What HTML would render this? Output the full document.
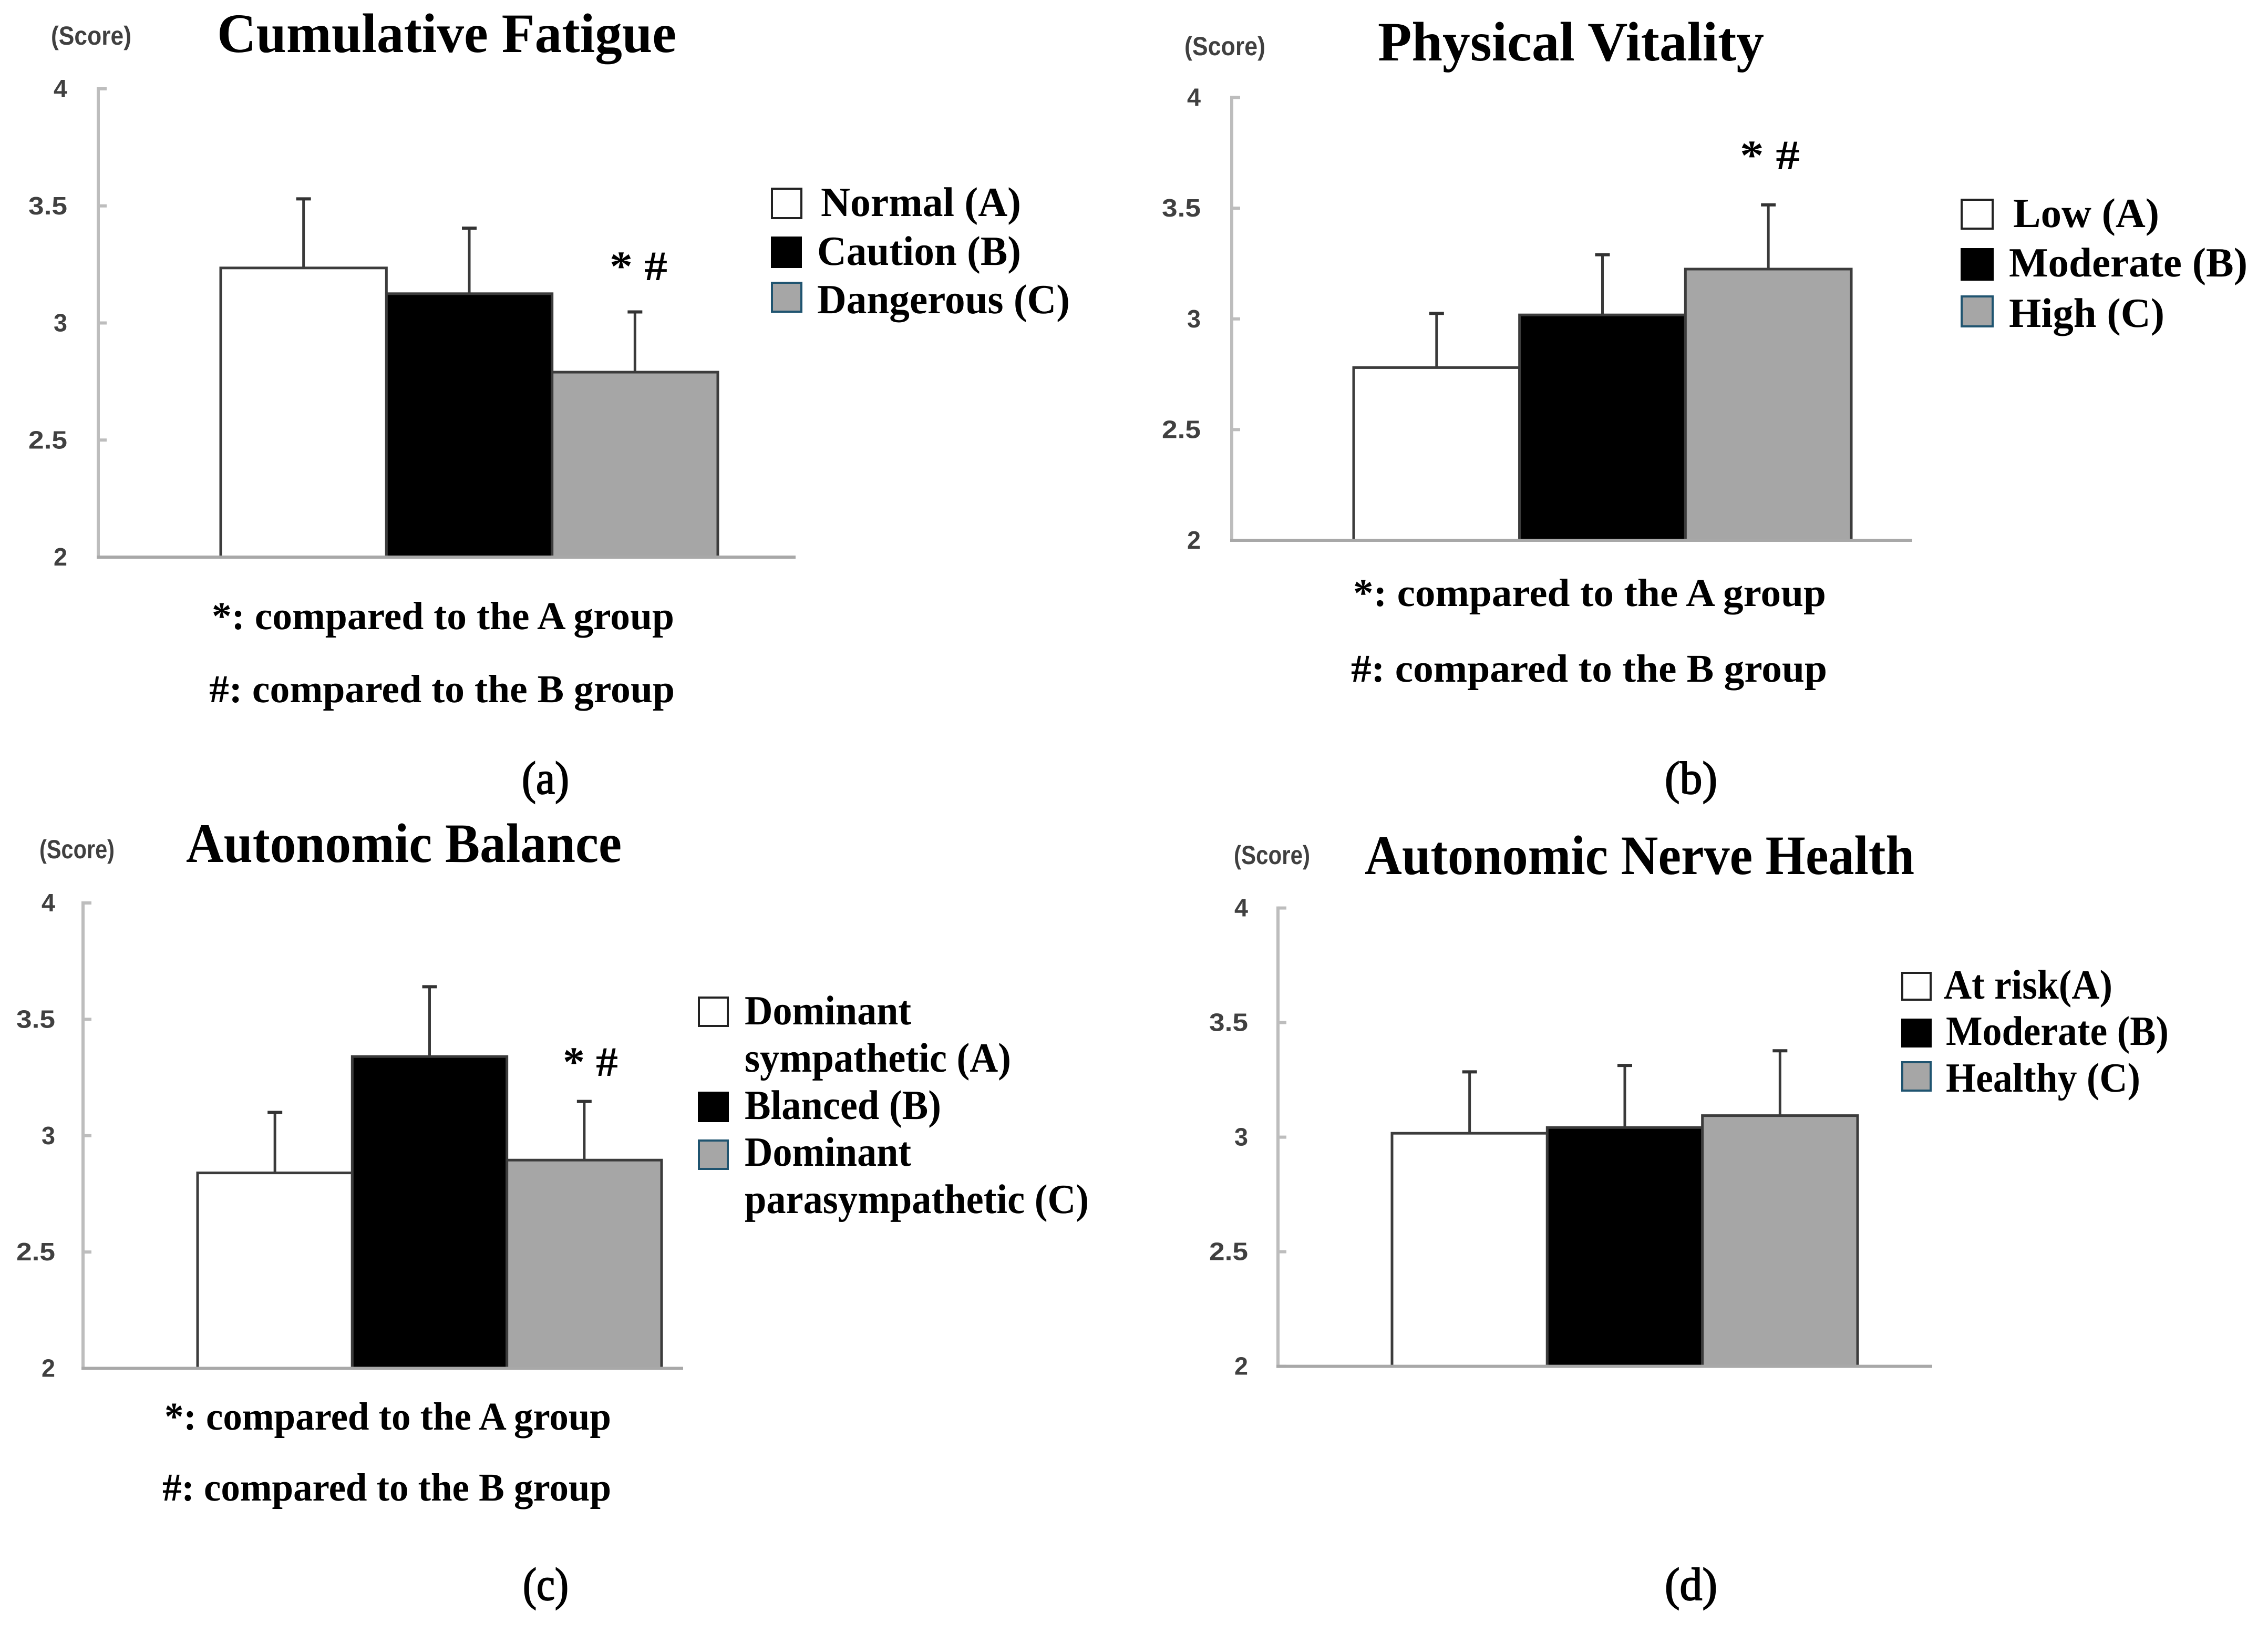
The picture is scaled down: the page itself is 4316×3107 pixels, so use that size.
<!DOCTYPE html>
<html lang="en">
<head>
<meta charset="utf-8">
<title>Fatigue and autonomic scores by group</title>
<style>
html,body{margin:0;padding:0;background:#fff;}
svg{display:block;}
text{text-rendering:geometricPrecision;}
.t{font-family:"Liberation Serif",serif;font-weight:700;fill:#000;}
.title{font-size:106px;}
.leg{font-size:79px;}
.note{font-size:75px;}
.sig{font-size:80px;}
.cap{font-size:88px;font-weight:400;stroke:#000;stroke-width:2px;}
.score{font-family:"Liberation Sans",sans-serif;font-size:50px;fill:#404040;font-weight:700;}
.tick-label{font-family:"Liberation Sans",sans-serif;font-size:48px;font-weight:700;fill:#404040;}
</style>
</head>
<body>
<svg id="figure" xmlns="http://www.w3.org/2000/svg" width="4316" height="3107" viewBox="0 0 4316 3107">
<rect width="4316" height="3107" fill="#fff"/>

<g id="panel-a">
  <text class="t title" x="413" y="99" textLength="874" lengthAdjust="spacingAndGlyphs">Cumulative Fatigue</text>
  <text class="score" x="97" y="85" textLength="153" lengthAdjust="spacingAndGlyphs">(Score)</text>
  <g id="plot-a"></g>
  <text class="t sig" x="1160" y="533" textLength="110" lengthAdjust="spacingAndGlyphs">* #</text>
  <g>
    <rect x="1469" y="359" width="56" height="56" fill="#fff" stroke="#222" stroke-width="4"/>
    <rect x="1467" y="450" width="59" height="60" fill="#000"/>
    <rect x="1469" y="538" width="56" height="55" fill="#a6a6a6" stroke="#1f5470" stroke-width="4"/>
    <text class="t leg" x="1562" y="411" textLength="381" lengthAdjust="spacingAndGlyphs">Normal (A)</text>
    <text class="t leg" x="1555" y="504" textLength="388" lengthAdjust="spacingAndGlyphs">Caution (B)</text>
    <text class="t leg" x="1555" y="596" textLength="481" lengthAdjust="spacingAndGlyphs">Dangerous (C)</text>
  </g>
  <text class="t note" x="403" y="1197" textLength="880" lengthAdjust="spacingAndGlyphs">*: compared to the A group</text>
  <text class="t note" x="398" y="1336" textLength="886" lengthAdjust="spacingAndGlyphs">#: compared to the B group</text>
  <text class="t cap" x="993" y="1510" textLength="90" lengthAdjust="spacingAndGlyphs">(a)</text>
</g>

<g id="panel-b">
  <text class="t title" x="2622" y="115" textLength="735" lengthAdjust="spacingAndGlyphs">Physical Vitality</text>
  <text class="score" x="2254" y="105" textLength="154" lengthAdjust="spacingAndGlyphs">(Score)</text>
  <g id="plot-b"></g>
  <text class="t sig" x="3311" y="322" textLength="114" lengthAdjust="spacingAndGlyphs">* #</text>
  <g>
    <rect x="3733" y="380" width="59" height="55" fill="#fff" stroke="#222" stroke-width="4"/>
    <rect x="3731" y="472" width="63" height="62" fill="#000"/>
    <rect x="3733" y="564" width="59" height="57" fill="#a6a6a6" stroke="#1f5470" stroke-width="4"/>
    <text class="t leg" x="3831" y="432" textLength="278" lengthAdjust="spacingAndGlyphs">Low (A)</text>
    <text class="t leg" x="3823" y="526" textLength="454" lengthAdjust="spacingAndGlyphs">Moderate (B)</text>
    <text class="t leg" x="3823" y="622" textLength="296" lengthAdjust="spacingAndGlyphs">High (C)</text>
  </g>
  <text class="t note" x="2575" y="1153" textLength="900" lengthAdjust="spacingAndGlyphs">*: compared to the A group</text>
  <text class="t note" x="2571" y="1297" textLength="906" lengthAdjust="spacingAndGlyphs">#: compared to the B group</text>
  <text class="t cap" x="3168" y="1510" textLength="100" lengthAdjust="spacingAndGlyphs">(b)</text>
</g>

<g id="panel-c">
  <text class="t title" x="354" y="1640" textLength="829" lengthAdjust="spacingAndGlyphs">Autonomic Balance</text>
  <text class="score" x="75" y="1633" textLength="143" lengthAdjust="spacingAndGlyphs">(Score)</text>
  <g id="plot-c"></g>
  <text class="t sig" x="1071" y="2047" textLength="105" lengthAdjust="spacingAndGlyphs">* #</text>
  <g>
    <rect x="1330" y="1898" width="55" height="54" fill="#fff" stroke="#222" stroke-width="4"/>
    <rect x="1328" y="2077" width="59" height="58" fill="#000"/>
    <rect x="1330" y="2170" width="55" height="54" fill="#a6a6a6" stroke="#1f5470" stroke-width="4"/>
    <text class="t leg" x="1417" y="1949" textLength="317" lengthAdjust="spacingAndGlyphs">Dominant</text>
    <text class="t leg" x="1417" y="2039" textLength="507" lengthAdjust="spacingAndGlyphs">sympathetic (A)</text>
    <text class="t leg" x="1417" y="2129" textLength="374" lengthAdjust="spacingAndGlyphs">Blanced (B)</text>
    <text class="t leg" x="1417" y="2218" textLength="317" lengthAdjust="spacingAndGlyphs">Dominant</text>
    <text class="t leg" x="1417" y="2308" textLength="655" lengthAdjust="spacingAndGlyphs">parasympathetic (C)</text>
  </g>
  <text class="t note" x="313" y="2720" textLength="850" lengthAdjust="spacingAndGlyphs">*: compared to the A group</text>
  <text class="t note" x="309" y="2855" textLength="854" lengthAdjust="spacingAndGlyphs">#: compared to the B group</text>
  <text class="t cap" x="995" y="3044" textLength="87" lengthAdjust="spacingAndGlyphs">(c)</text>
</g>

<g id="panel-d">
  <text class="t title" x="2597" y="1663" textLength="1046" lengthAdjust="spacingAndGlyphs">Autonomic Nerve Health</text>
  <text class="score" x="2348" y="1644" textLength="145" lengthAdjust="spacingAndGlyphs">(Score)</text>
  <g id="plot-d"></g>
  <g>
    <rect x="3620" y="1851" width="54" height="51" fill="#fff" stroke="#222" stroke-width="4"/>
    <rect x="3618" y="1938" width="58" height="55" fill="#000"/>
    <rect x="3620" y="2021" width="54" height="54" fill="#a6a6a6" stroke="#1f5470" stroke-width="4"/>
    <text class="t leg" x="3699" y="1900" textLength="321" lengthAdjust="spacingAndGlyphs">At risk(A)</text>
    <text class="t leg" x="3703" y="1988" textLength="424" lengthAdjust="spacingAndGlyphs">Moderate (B)</text>
    <text class="t leg" x="3703" y="2077" textLength="370" lengthAdjust="spacingAndGlyphs">Healthy (C)</text>
  </g>
  <text class="t cap" x="3168" y="3044" textLength="100" lengthAdjust="spacingAndGlyphs">(d)</text>
</g>
</svg>

<script>
const tickValues = [2, 2.5, 3, 3.5, 4];
const tickLabels = ["2", "2.5", "3", "3.5", "4"];
const groupNames = ["a", "b", "c"];
const barFills = ["#ffffff", "#000000", "#a6a6a6"];

const fatigueMeans = [3.235, 3.125, 2.79];
const fatigueUpper = [3.53, 3.405, 3.047];

const vitalityMeans = [2.78, 3.018, 3.225];
const vitalityUpper = [3.025, 3.29, 3.515];

const balanceMeans = [2.84, 3.34, 2.895];
const balanceUpper = [3.10, 3.64, 3.147];

const nerveMeans = [3.017, 3.042, 3.094];
const nerveUpper = [3.285, 3.313, 3.377];

const NS = "http://www.w3.org/2000/svg";

function shape(tag, parent, props) {
  const el = document.createElementNS(NS, tag);
  for (const k in props) el.setAttribute(k, props[k]);
  parent.appendChild(el);
  return el;
}

function drawChart(id, frame, means, upper) {
  const root = document.getElementById(id);
  const yScale = v => frame.bottom - (v - 2) / 2 * (frame.bottom - frame.top);
  const band = (frame.barRight - frame.barLeft) / means.length;
  const xBand = i => frame.barLeft + i * band;

  const yAxis = shape("line", root, {x1: frame.axisX, x2: frame.axisX, y1: frame.top - 3, y2: frame.bottom + 3, stroke: "#bdbdbd", "stroke-width": 6});
  
  

  tickValues.forEach((v, i) => {
    const tick = shape("line", root, {x1: frame.axisX, x2: frame.axisX + 16, y1: yScale(v), y2: yScale(v), stroke: "#bdbdbd", "stroke-width": 6});
    
    
    const text = tickLabels[i];
    const wide = text.length > 1 ? 74 : 26;
    const label = shape("text", root, {class: "tick-label", x: frame.labelRight - wide, y: yScale(v) + 16, textLength: wide, lengthAdjust: "spacingAndGlyphs"});
    label.textContent = text;
    
    
  });

  means.forEach((m, i) => {
    const cx = xBand(i) + band / 2;
    const stem = shape("line", root, {x1: cx, x2: cx, y1: yScale(upper[i]), y2: yScale(m), stroke: "#3a3a3a", "stroke-width": 5});
    
    
    const cap = shape("line", root, {x1: cx - 14, x2: cx + 14, y1: yScale(upper[i]), y2: yScale(upper[i]), stroke: "#333", "stroke-width": 6});
    
    
  });

  means.forEach((m, i) => {
    const bar = shape("rect", root, {x: xBand(i), y: yScale(m), width: band, height: frame.bottom - yScale(m), fill: barFills[i], stroke: "#3c3c3c", "stroke-width": 5});
    
    
  });

  const xAxis = shape("line", root, {x1: frame.axisX - 3, x2: frame.axisEnd, y1: frame.bottom, y2: frame.bottom, stroke: "#a8a8a8", "stroke-width": 6});
  
  
}

drawChart("plot-a", {axisX: 187, axisEnd: 1514, top: 169, bottom: 1060, barLeft: 420, barRight: 1366, labelRight: 128}, fatigueMeans, fatigueUpper);
drawChart("plot-b", {axisX: 2344, axisEnd: 3639, top: 185.5, bottom: 1028, barLeft: 2576, barRight: 3523, labelRight: 2285}, vitalityMeans, vitalityUpper);
drawChart("plot-c", {axisX: 158, axisEnd: 1300, top: 1718, bottom: 2603.5, barLeft: 376, barRight: 1259, labelRight: 105}, balanceMeans, balanceUpper);
drawChart("plot-d", {axisX: 2432, axisEnd: 3677, top: 1727.6, bottom: 2599.6, barLeft: 2649, barRight: 3535, labelRight: 2375}, nerveMeans, nerveUpper);
</script>
</body>
</html>
